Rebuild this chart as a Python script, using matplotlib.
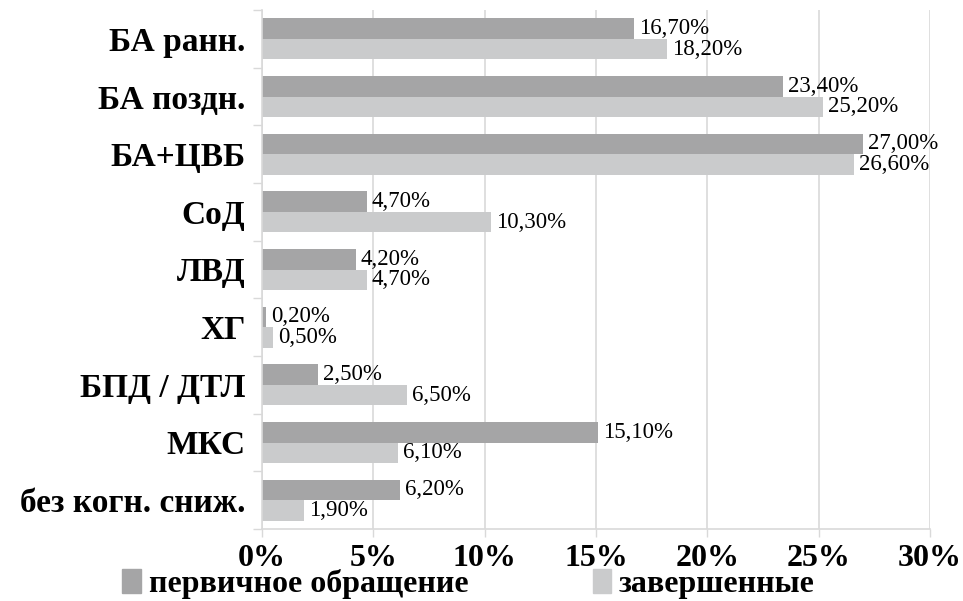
import matplotlib
matplotlib.use("Agg")
import matplotlib.pyplot as plt
from matplotlib.patches import Patch
import numpy as np

categories = ["БА ранн.", "БА поздн.", "БА+ЦВБ", "СоД", "ЛВД", "ХГ",
              "БПД / ДТЛ", "МКС", "без когн. сниж."]
first_visit = [16.7, 23.4, 27.0, 4.7, 4.2, 0.2, 2.5, 15.1, 6.2]
completed = [18.2, 25.2, 26.6, 10.3, 4.7, 0.5, 6.5, 6.1, 1.9]
series_names = ["первичное обращение", "завершенные"]
xticks = [0, 5, 10, 15, 20, 25, 30]

dark = "#A5A5A6"
light = "#CACBCC"
grid_c = "#D9D9D9"
serif = ["Liberation Serif", "DejaVu Serif"]

fig = plt.figure(figsize=(9.63, 6.01), dpi=100)
ax = fig.add_axes([262/963, 1-529/601, (930-262)/963, (529-10)/601])

y = np.arange(len(categories))
h = 0.355
ax.barh(y - h/2, first_visit, height=h, color=dark, zorder=2)
ax.barh(y + h/2, completed, height=h, color=light, zorder=2)

def fmt(v):
    return f"{v:.2f}".replace(".", ",") + "%"

for yi, v in zip(y, first_visit):
    ax.annotate(fmt(v), (v, yi - h/2), xytext=(3.5, 0), textcoords="offset points",
                va="center", ha="left", fontsize=16.5, family=serif, zorder=3)
for yi, v in zip(y, completed):
    ax.annotate(fmt(v), (v, yi + h/2), xytext=(3.5, 0), textcoords="offset points",
                va="center", ha="left", fontsize=16.5, family=serif, zorder=3)

ax.set_xlim(0, 30)
ax.set_ylim(len(categories) - 0.5, -0.5)
ax.set_xticks(xticks)
ax.set_xticklabels([f"{t}%" for t in xticks], family=serif, fontweight="bold", fontsize=23)
ax.set_yticks(y)
ax.set_yticklabels(categories, family=serif, fontweight="bold", fontsize=24)
ax.set_yticks(np.arange(-0.5, len(categories), 1), minor=True)
ax.tick_params(axis="y", which="major", length=0, pad=12)
ax.tick_params(axis="y", which="minor", length=6.5, color=grid_c, width=1)
ax.tick_params(axis="x", which="major", length=6, color=grid_c, width=1, pad=4.5)

ax.xaxis.grid(True, color=grid_c, linewidth=1.2, zorder=0)
ax.set_axisbelow(True)
for s in ["top", "right"]:
    ax.spines[s].set_visible(False)
for s in ["left", "bottom"]:
    ax.spines[s].set_color(grid_c)
    ax.spines[s].set_linewidth(1.2)

handles = [Patch(color=dark), Patch(color=light)]
fig.legend(handles, series_names, loc="center", bbox_to_anchor=(0.4867, 1-584/601),
           ncol=2, frameon=False, handlelength=0.57, handleheight=0.78,
           handletextpad=0.25, columnspacing=3.9, borderpad=0,
           prop={"family": serif, "weight": "bold", "size": 23})

fig.savefig("out.png", dpi=100)
